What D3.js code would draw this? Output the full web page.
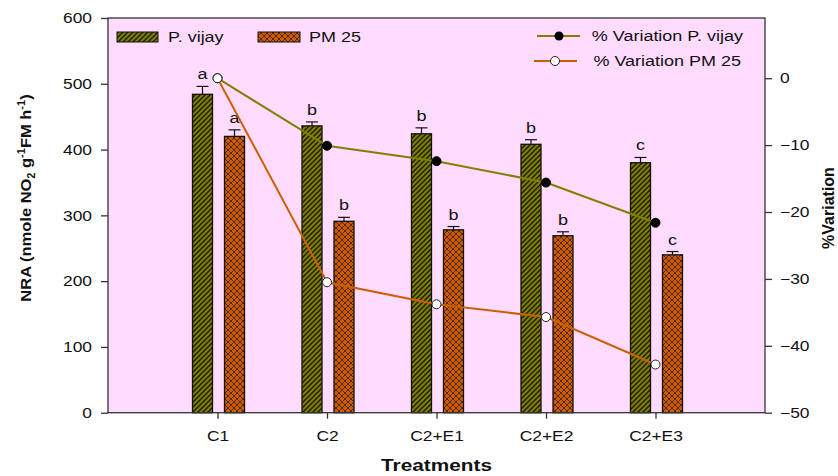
<!DOCTYPE html>
<html><head><meta charset="utf-8">
<script src="https://cdn.jsdelivr.net/npm/d3@7"></script>
<style>body{margin:0;background:#fff;} svg{display:block;font-family:"Liberation Sans",Arial,sans-serif;}</style>
</head><body>
<svg id="c" width="838" height="476"></svg>
<script>
const categories = ["C1","C2","C2+E1","C2+E2","C2+E3"];
const nraVijay = [484, 436, 424, 408, 380];
const nraVijayErr = [12, 6, 9, 7, 8];
const nraPM = [420, 291, 278, 269, 240];
const nraPMErr = [10, 6, 5, 6, 5];
const lettersVijay = ["a","b","b","b","c"];
const lettersPM = ["a","b","b","b","c"];
const varVijay = [0, -10.1, -12.4, -15.6, -21.6];
const varPM = [0, -30.5, -33.8, -35.7, -42.8];
const leftTicks = [0,100,200,300,400,500,600];
const rightTicks = [0,-10,-20,-30,-40,-50];

const SX = 1.2;
function stretch(sel, s){
  sel.each(function(){
    const x = +this.getAttribute("x") || 0;
    this.setAttribute("transform", `translate(${x},0) scale(${s},1) translate(${-x},0)`);
  });
}

const svg = d3.select("#c");
const L=108, R=765, T=18, B=412.7;
const x = d3.scaleLinear().domain([0,6]).range([L,R]);
const y = d3.scaleLinear().domain([0,600]).range([B,T]);
const y2 = d3.scaleLinear().domain([-50,9]).range([B,T]);

const defs = svg.append("defs");
const p1 = defs.append("pattern").attr("id","hatchG").attr("patternUnits","userSpaceOnUse").attr("width",5).attr("height",5);
p1.append("rect").attr("width",5).attr("height",5).attr("fill","#7d7d00");
p1.append("path").attr("d","M-1,1 l2,-2 M0,5 l5,-5 M4,6 l2,-2").attr("stroke","#1a1a00").attr("stroke-width",1.3);
const p2 = defs.append("pattern").attr("id","hatchO").attr("patternUnits","userSpaceOnUse").attr("width",6).attr("height",6);
p2.append("rect").attr("width",6).attr("height",6).attr("fill","#cc5c00");
p2.append("path").attr("d","M0,6 L6,0 M-1,1 L1,-1 M5,7 L7,5 M0,0 L6,6").attr("stroke","#3a1800").attr("stroke-width",0.8);

svg.append("rect").attr("x",L).attr("y",T).attr("width",R-L).attr("height",B-T).attr("fill","#ffdcff");

const gOff=[-25,-5], oOff=[7,27];
const g = svg.append("g");
categories.forEach((c,i)=>{
  const cx = x(i+1);
  g.append("rect").attr("x",cx+gOff[0]).attr("y",y(nraVijay[i])).attr("width",gOff[1]-gOff[0]).attr("height",y(0)-y(nraVijay[i]))
   .attr("fill","url(#hatchG)").attr("stroke","#111").attr("stroke-width",1.3);
  g.append("rect").attr("x",cx+oOff[0]).attr("y",y(nraPM[i])).attr("width",oOff[1]-oOff[0]).attr("height",y(0)-y(nraPM[i]))
   .attr("fill","url(#hatchO)").attr("stroke","#111").attr("stroke-width",1.3);
  [[gOff,nraVijay[i],nraVijayErr[i],lettersVijay[i]],[oOff,nraPM[i],nraPMErr[i],lettersPM[i]]].forEach(([off,v,e,l])=>{
    const bx = cx+(off[0]+off[1])/2;
    g.append("line").attr("x1",bx).attr("x2",bx).attr("y1",y(v)).attr("y2",y(v+e)).attr("stroke","#111").attr("stroke-width",1.2);
    g.append("line").attr("x1",bx-6).attr("x2",bx+6).attr("y1",y(v+e)).attr("y2",y(v+e)).attr("stroke","#111").attr("stroke-width",1.2);
    g.append("text").attr("class","lt").attr("x",bx).attr("y",y(v+e)-7).attr("text-anchor","middle").attr("font-size",15).attr("fill","#111").text(l);
  });
});
stretch(g.selectAll("text.lt"), SX);

const lineGen = d3.line().x((d,i)=>x(i+1)).y(d=>y2(d));
svg.append("path").datum(varVijay).attr("d",lineGen).attr("fill","none").attr("stroke","#808000").attr("stroke-width",2);
svg.append("path").datum(varPM).attr("d",lineGen).attr("fill","none").attr("stroke","#cc6000").attr("stroke-width",2);
svg.selectAll(".pv").data(varVijay).join("circle").attr("cx",(d,i)=>x(i+1)).attr("cy",d=>y2(d)).attr("r",4.5).attr("fill","#000").attr("stroke","#000");
svg.selectAll(".pp").data(varPM).join("circle").attr("cx",(d,i)=>x(i+1)).attr("cy",d=>y2(d)).attr("r",4.5).attr("fill","#fff").attr("stroke","#222").attr("stroke-width",1);

svg.append("rect").attr("x",L).attr("y",T).attr("width",R-L).attr("height",B-T).attr("fill","none").attr("stroke","#333").attr("stroke-width",1.3);

const axL = svg.append("g").attr("transform",`translate(${L},0)`).call(d3.axisLeft(y).tickValues(leftTicks).tickSize(7).tickPadding(9));
const axR = svg.append("g").attr("transform",`translate(${R},0)`).call(d3.axisRight(y2).tickValues(rightTicks).tickSize(7).tickPadding(8));
const axB = svg.append("g").attr("transform",`translate(0,${B})`).call(d3.axisBottom(x).tickValues([1,2,3,4,5]).tickFormat(d=>categories[d-1]).tickSize(6).tickPadding(12));
[axL,axR,axB].forEach(a=>{
  a.select(".domain").remove();
  a.selectAll("line").attr("stroke","#333").attr("stroke-width",1.3);
  a.selectAll("text").attr("font-size",14.5).attr("fill","#111").attr("font-family","Liberation Sans, Arial, sans-serif");
  stretch(a.selectAll("text"), SX);
});

const lt = svg.append("text").attr("transform","translate(31,198) rotate(-90) scale(1.1,1)").attr("text-anchor","middle").attr("font-size",15).attr("font-weight","bold").attr("fill","#111");
lt.append("tspan").text("NRA (nmole NO");
lt.append("tspan").attr("font-size",10).attr("dy",4).text("2");
lt.append("tspan").attr("dy",-4).text(" g");
lt.append("tspan").attr("font-size",10).attr("dy",-6).text("-1");
lt.append("tspan").attr("dy",6).text("FM h");
lt.append("tspan").attr("font-size",10).attr("dy",-6).text("-1");
lt.append("tspan").attr("dy",6).text(")");
svg.append("text").attr("transform","translate(834,208) rotate(-90)").attr("text-anchor","middle").attr("font-size",16).attr("font-weight","bold").attr("fill","#111").text("%Variation");
const tt = svg.append("text").attr("x",(L+R)/2).attr("y",471).attr("text-anchor","middle").attr("font-size",16).attr("font-weight","bold").attr("fill","#111").text("Treatments");
stretch(tt, 1.3);

const lg = svg.append("g");
lg.append("rect").attr("x",117).attr("y",32).attr("width",41).attr("height",10).attr("fill","url(#hatchG)").attr("stroke","#111");
lg.append("text").attr("x",168).attr("y",42).attr("font-size",15).attr("fill","#111").text("P. vijay");
lg.append("rect").attr("x",258).attr("y",32).attr("width",42).attr("height",10).attr("fill","url(#hatchO)").attr("stroke","#111");
lg.append("text").attr("x",309).attr("y",42).attr("font-size",15).attr("fill","#111").text("PM 25");
lg.append("line").attr("x1",537).attr("x2",580).attr("y1",36).attr("y2",36).attr("stroke","#808000").attr("stroke-width",2);
lg.append("circle").attr("cx",559).attr("cy",36).attr("r",4.5).attr("fill","#000");
lg.append("text").attr("x",743).attr("y",41).attr("text-anchor","end").attr("font-size",15).attr("fill","#111").text("% Variation P. vijay");
lg.append("line").attr("x1",534).attr("x2",577).attr("y1",61).attr("y2",61).attr("stroke","#cc6000").attr("stroke-width",2);
lg.append("circle").attr("cx",555).attr("cy",61).attr("r",4.5).attr("fill","#fff").attr("stroke","#222");
lg.append("text").attr("x",741).attr("y",66).attr("text-anchor","end").attr("font-size",15).attr("fill","#111").text("% Variation PM 25");
stretch(lg.selectAll("text"), SX);
</script>
</body></html>
